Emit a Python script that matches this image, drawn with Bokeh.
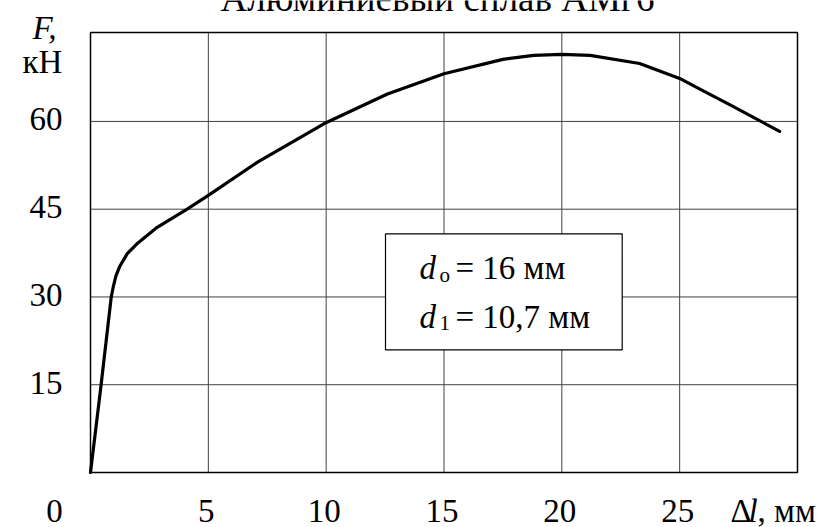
from bokeh.plotting import figure
from bokeh.models import Label, BoxAnnotation
from bokeh.core.properties import value
from bokeh.embed import file_html
from bokeh.resources import INLINE

# Data: elongation (mm) vs force (kN)
dl = [0, 0.45, 0.88, 0.98, 1.08, 1.25, 1.56, 2.0, 2.83, 4.1, 5.0, 7.07, 9.9,
      12.6, 15.0, 17.5, 18.8, 20.0, 21.2, 23.3, 25.0, 25.9, 27.2, 29.24]
force = [0, 15, 30, 32.0, 33.6, 35.3, 37.4, 39.2, 41.9, 45.0, 47.35, 53.0, 59.6,
         64.7, 68.15, 70.6, 71.3, 71.45, 71.3, 69.9, 67.35, 65.45, 62.7, 58.3]
x_ticks = [5, 10, 15, 20, 25]
y_ticks = [15, 30, 45, 60]
x_lim = (0, 30)
y_lim = (0, 75.2)
title_text = "Алюминиевый сплав АМг6"
d0_text = "= 16 мм"
d1_text = "= 10,7 мм"

# layout (pixels)
W, H = 827, 527
FL, FR, FT, FB = 90, 797, 32, 472          # plot box edges on the canvas
PX = (FR - FL) / (x_lim[1] - x_lim[0])
PY = (FB - FT) / (y_lim[1] - y_lim[0])

def X(px):
    return x_lim[0] + (px - FL) / PX

def Y(py):
    return y_lim[0] + (FB - py) / PY

SERIF = "Liberation Serif"
FS = "33px"

p = figure(width=W, height=H, x_range=(X(0), X(W)), y_range=(Y(H), Y(0)),
           output_backend="svg", toolbar_location=None,
           x_axis_location=None, y_axis_location=None, min_border=0)
p.grid.visible = False
p.outline_line_color = None
p.background_fill_color = "white"
p.border_fill_color = "white"

# grid lines from the tick lists
p.segment(x0=x_ticks, x1=x_ticks, y0=[y_lim[0]] * len(x_ticks), y1=[y_lim[1]] * len(x_ticks),
          line_color="#404040", line_width=1, level="underlay")
p.segment(x0=[x_lim[0]] * len(y_ticks), x1=[x_lim[1]] * len(y_ticks), y0=y_ticks, y1=y_ticks,
          line_color="#404040", line_width=1, level="underlay")

# curve
p.line(dl, force, line_color="black", line_width=3.2, line_join="round", line_cap="round")

# plot box
p.add_layout(BoxAnnotation(left=x_lim[0], right=x_lim[1], bottom=y_lim[0], top=y_lim[1],
                           fill_alpha=0, line_color="black", line_alpha=1.0, line_width=1.5))

# tick labels
p.text(x=x_ticks, y=[Y(510)] * len(x_ticks), text=[str(t) for t in x_ticks],
       text_font=value(SERIF), text_font_size=value(FS), text_color="black",
       text_align="center", text_baseline="middle", x_offset=-2)
p.text(x=[X(62)] * len(y_ticks), y=y_ticks, text=[str(t) for t in y_ticks],
       text_font=value(SERIF), text_font_size=value(FS), text_color="black",
       text_align="right", text_baseline="middle", y_offset=-2)

# annotation box
p.add_layout(BoxAnnotation(left=X(385), right=X(621.7), bottom=Y(349.3), top=Y(233.3),
                           fill_color="white", fill_alpha=1.0,
                           line_color="black", line_alpha=1.0, line_width=1.2))

def lab(px, py, text, size=FS, style="normal", align="left", baseline="middle"):
    p.add_layout(Label(x=X(px), y=Y(py), text=text,
                       text_font=SERIF, text_font_size=size,
                       text_font_style=style, text_align=align, text_baseline=baseline,
                       text_color="black"))

# box texts
lab(419, 267, "d", style="italic")
lab(439, 274, "о", size="21px")
lab(455, 267, d0_text)
lab(419, 316, "d", style="italic")
lab(439, 322, "1", size="21px")
lab(455, 316, d1_text)

# axis captions
lab(54, 510, "0", align="center")
lab(730, 510, "Δ")
lab(748, 510, "l", style="italic")
lab(757, 510, ", мм")
lab(44, 27, "F,", style="italic", align="center")
lab(42, 61, "кН", align="center")

# title (cut at the top edge as in the reference)
lab(437, -2, title_text, size="37px", align="center")

open("out.html", "w").write(file_html(p, INLINE))
